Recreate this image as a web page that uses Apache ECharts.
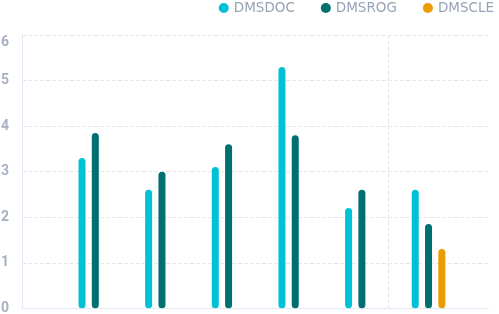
<!DOCTYPE html>
<html>
<head>
<meta charset="utf-8">
<script src="https://cdn.jsdelivr.net/npm/echarts@6/dist/echarts.min.js"></script>
<style>html,body{margin:0;padding:0;background:#fff;}#c{width:499px;height:314px;}</style>
</head>
<body>
<div id="c"></div>
<script>
var categories = ['A', 'B', 'C', 'D', 'E', 'F'];
var seriesNames = ['DMSDOC', 'DMSROG', 'DMSCLE'];
var dmsdoc = [3.3, 2.6, 3.1, 5.3, 2.2, 2.6];
var dmsrog = [3.85, 3.0, 3.6, 3.8, 2.6, 1.85];
var dmscle = [null, null, null, null, null, 1.3];
var yTicks = [0, 1, 2, 3, 4, 5, 6];

function toPoints(arr) {
  var out = [];
  arr.forEach(function (v, i) { if (v != null) out.push([i, v]); });
  return out;
}
var colors = ['#00c1d5', '#006f6f', '#eb9c00'];
var chart = echarts.init(document.getElementById('c'), null, {renderer: 'canvas'});
function bar(name, data, color) {
  return {
    name: name, type: 'bar', data: toPoints(data), barWidth: 7, barGap: '90%',
    itemStyle: {color: color, borderRadius: 3.5}
  };
}
chart.setOption({
  animation: false,
  color: colors,
  textStyle: {fontFamily: 'Roboto'},
  legend: {
    top: 1, right: 5, padding: 0, icon: 'circle', itemWidth: 10, itemHeight: 10, itemGap: 26,
    textStyle: {color: '#97a3b6', fontSize: 13.5, fontFamily: 'DejaVu Sans'},
    data: seriesNames
  },
  grid: {left: 22, right: 10.5, top: 35, bottom: 5.7, containLabel: false, outerBoundsMode: 'none'},
  xAxis: {
    type: 'value', min: -1.1, max: categories.length - 0.1, interval: 5.5,
    axisLine: {show: true, onZero: false, lineStyle: {color: '#e4e8f7'}},
    axisTick: {show: false}, axisLabel: {show: false},
    splitLine: {show: true, showMinLine: false, showMaxLine: false, lineStyle: {type: 'dashed', color: '#e6e6e6'}}
  },
  yAxis: {
    type: 'value', min: yTicks[0], max: yTicks[yTicks.length - 1], interval: 1,
    axisLine: {show: true, onZero: false, lineStyle: {color: '#e4e8f7'}},
    axisTick: {show: false},
    axisLabel: {color: '#a7b1c3', fontSize: 14, fontWeight: 'bold', margin: 13, verticalAlignMaxLabel: 'top'},
    splitLine: {show: true, lineStyle: {type: 'dashed', color: '#e8e8e8'}}
  },
  series: [
    bar(seriesNames[0], dmsdoc, colors[0]),
    bar(seriesNames[1], dmsrog, colors[1]),
    bar(seriesNames[2], dmscle, colors[2])
  ]
});
</script>
</body>
</html>
